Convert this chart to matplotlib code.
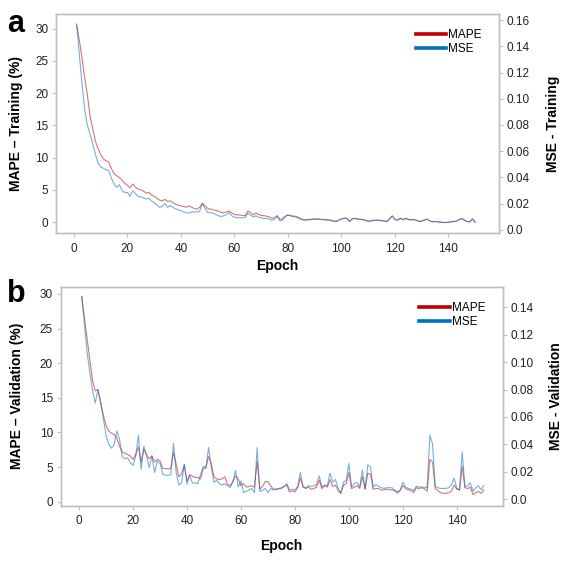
import numpy as np
import matplotlib.pyplot as plt
from matplotlib.lines import Line2D

plt.rcParams['font.family'] = ['Liberation Sans', 'DejaVu Sans']

epochs = np.arange(1, 151)

# panel a - training
mape_train = [30.6, 28.3, 25.5, 22.5, 19.8, 16.5, 14.5, 12.6, 11.4, 10.5,
              9.8, 9.5, 9.3, 8.3, 7.5, 7.2, 6.9, 6.5, 6.0, 5.7,
              5.3, 5.9, 5.4, 5.1, 5.0, 4.8, 4.5, 4.6, 4.2, 4.0,
              3.7, 3.4, 3.3, 3.5, 3.2, 3.3, 3.0, 2.8, 2.6, 2.5,
              2.4, 2.3, 2.5, 2.3, 2.1, 2.0, 2.3, 2.9, 2.5, 2.1,
              2.0, 1.9, 1.8, 1.7, 1.5, 1.4, 1.6, 1.7, 1.4, 1.2,
              1.1, 1.1, 1.0, 1.0, 1.7, 1.5, 1.1, 1.4, 1.2, 1.0,
              1.0, 0.9, 0.8, 0.6, 0.7, 1.0, 0.4, 0.5, 0.9, 1.1,
              1.0, 0.9, 0.9, 0.7, 0.5, 0.36, 0.4, 0.4, 0.5, 0.5,
              0.5, 0.45, 0.4, 0.4, 0.35, 0.3, 0.2, 0.1, 0.3, 0.5,
              0.6, 0.6, 0.1, 0.5, 0.6, 0.5, 0.45, 0.4, 0.3, 0.1,
              0.2, 0.3, 0.3, 0.3, 0.25, 0.2, 0.1, 0.5, 0.97, 0.4,
              0.3, 0.6, 0.4, 0.6, 0.4, 0.4, 0.4, 0.3, 0.1, 0.2,
              0.3, 0.45, 0.2, 0.05, 0.1, 0.05, 0.0, -0.05, -0.06, 0.0,
              0.05, 0.1, 0.15, 0.4, 0.56, 0.3, 0.1, 0.05, 0.5, 0.0]

mse_train = [0.157, 0.134, 0.112, 0.092, 0.080, 0.073, 0.066, 0.058, 0.051, 0.048,
             0.047, 0.046, 0.0453, 0.0394, 0.0350, 0.0325, 0.0345, 0.0300, 0.0286, 0.0286,
             0.0256, 0.0300, 0.0276, 0.0256, 0.0251, 0.0246, 0.0236, 0.0241, 0.0222, 0.0207,
             0.0192, 0.0172, 0.0182, 0.0202, 0.0172, 0.0187, 0.0172, 0.0162, 0.0153, 0.0148,
             0.0138, 0.0133, 0.0128, 0.0138, 0.0138, 0.0138, 0.0143, 0.0202, 0.0167, 0.0133,
             0.0133, 0.0128, 0.0118, 0.0108, 0.0103, 0.0108, 0.0118, 0.0133, 0.0108, 0.0098,
             0.0093, 0.0093, 0.0093, 0.0093, 0.0128, 0.0113, 0.0098, 0.0108, 0.0098, 0.0093,
             0.0088, 0.0088, 0.0083, 0.0074, 0.0083, 0.0103, 0.0069, 0.0074, 0.0103, 0.0113,
             0.0108, 0.0103, 0.0098, 0.0088, 0.0079, 0.0074, 0.0074, 0.0076, 0.0079, 0.0081,
             0.0081, 0.0079, 0.0079, 0.0074, 0.0074, 0.0071, 0.0066, 0.0064, 0.0074, 0.0083,
             0.0088, 0.0088, 0.0064, 0.0083, 0.0088, 0.0081, 0.0079, 0.0079, 0.0074, 0.0064,
             0.0069, 0.0071, 0.0074, 0.0074, 0.0069, 0.0069, 0.0064, 0.0083, 0.0106, 0.0079,
             0.0074, 0.0088, 0.0076, 0.0088, 0.0079, 0.0076, 0.0079, 0.0074, 0.0064, 0.0066,
             0.0074, 0.0081, 0.0069, 0.0061, 0.0064, 0.0061, 0.0059, 0.0056, 0.0056, 0.0059,
             0.0061, 0.0064, 0.0066, 0.0079, 0.0086, 0.0074, 0.0064, 0.0061, 0.0083, 0.0059]

# panel b - validation
mape_val = [29.6, 26.5, 23.5, 20.5, 17.5, 16.0, 16.2, 14.3, 12.5, 11.0,
            10.2, 9.9, 9.7, 9.2, 8.0, 7.2, 7.0, 6.8, 6.6, 6.1,
            6.8, 7.9, 5.7, 7.6, 6.8, 6.2, 6.6, 5.7, 6.1, 5.9,
            4.8, 4.8, 4.7, 4.8, 7.1, 5.4, 3.6, 4.0, 5.3, 3.0,
            3.9, 3.7, 3.5, 3.5, 3.3, 4.7, 5.0, 6.5, 5.5, 3.6,
            3.3, 3.2, 3.3, 3.6, 2.5, 2.3, 2.9, 3.7, 3.3, 2.3,
            2.6, 2.1, 2.2, 2.3, 2.1, 5.8, 1.8, 2.2, 2.9, 2.9,
            2.3, 1.8, 1.8, 1.9, 2.0, 2.2, 2.4, 1.4, 1.6, 1.4,
            2.0, 3.4, 2.1, 1.9, 2.1, 1.8, 1.9, 2.1, 3.1, 1.9,
            2.3, 2.1, 3.2, 2.2, 2.4, 1.6, 1.2, 2.4, 2.6, 4.2,
            1.9, 2.1, 2.3, 1.9, 3.6, 1.8, 4.1, 4.0, 1.8, 1.9,
            1.9, 1.7, 1.7, 1.8, 1.7, 1.7, 1.6, 1.4, 1.7, 2.3,
            1.9, 1.7, 1.6, 1.3, 2.0, 1.9, 2.0, 1.9, 1.5, 6.1,
            5.7, 1.9, 1.6, 1.3, 1.2, 1.2, 1.3, 1.5, 2.4, 1.8,
            1.7, 5.1, 2.0, 1.9, 2.1, 1.0, 1.3, 1.5, 1.2, 1.7]

mse_val = [0.1480, 0.1273, 0.1070, 0.0924, 0.0792, 0.0701, 0.0802, 0.0706, 0.0590, 0.0463,
           0.0403, 0.0372, 0.0397, 0.0499, 0.0438, 0.0311, 0.0296, 0.0301, 0.0266, 0.0246,
           0.0316, 0.0468, 0.0220, 0.0387, 0.0316, 0.0230, 0.0316, 0.0195, 0.0276, 0.0261,
           0.0185, 0.0175, 0.0175, 0.0180, 0.0408, 0.0195, 0.0104, 0.0119, 0.0256, 0.0109,
           0.0175, 0.0119, 0.0119, 0.0114, 0.0175, 0.0241, 0.0225, 0.0377, 0.0236, 0.0124,
           0.0139, 0.0114, 0.0104, 0.0114, 0.0099, 0.0084, 0.0129, 0.0210, 0.0089, 0.0134,
           0.0048, 0.0058, 0.0068, 0.0079, 0.0048, 0.0377, 0.0058, 0.0063, 0.0079, 0.0048,
           0.0079, 0.0068, 0.0074, 0.0074, 0.0079, 0.0094, 0.0114, 0.0068, 0.0074, 0.0068,
           0.0094, 0.0195, 0.0094, 0.0084, 0.0099, 0.0094, 0.0099, 0.0109, 0.0170, 0.0089,
           0.0104, 0.0099, 0.0190, 0.0124, 0.0144, 0.0084, 0.0043, 0.0124, 0.0139, 0.0261,
           0.0089, 0.0114, 0.0124, 0.0089, 0.0215, 0.0074, 0.0251, 0.0236, 0.0089, 0.0109,
           0.0094, 0.0084, 0.0079, 0.0084, 0.0084, 0.0084, 0.0063, 0.0043, 0.0063, 0.0124,
           0.0089, 0.0079, 0.0074, 0.0063, 0.0094, 0.0089, 0.0089, 0.0089, 0.0084, 0.0468,
           0.0403, 0.0094, 0.0084, 0.0079, 0.0079, 0.0079, 0.0084, 0.0104, 0.0155, 0.0079,
           0.0068, 0.0347, 0.0089, 0.0099, 0.0119, 0.0058, 0.0084, 0.0099, 0.0068, 0.0099]

red = '#c00000'
blue = '#0070c0'
grey = '#bfbfbf'

fig = plt.figure(figsize=(5.71, 5.68), dpi=100)


def panel(rect, mape, mse, name, xlim, ylim_l, ylim_r, rticks, xlab_y, lab_x):
    ax = fig.add_axes(rect)
    ax2 = ax.twinx()
    ax.plot(epochs, mape, color=red, alpha=0.55, lw=0.8)
    ax2.plot(epochs, mse, color=blue, alpha=0.55, lw=0.8)

    ax.set_xlim(*xlim)
    ax.set_ylim(*ylim_l)
    ax2.set_ylim(*ylim_r)
    ax.set_xticks(np.arange(0, 141, 20))
    ax.set_yticks(np.arange(0, 31, 5))
    ax2.set_yticks(rticks)
    ax2.set_yticklabels(['0.0'] + ['%.2f' % v for v in rticks[1:]])

    for a in (ax, ax2):
        for s in a.spines.values():
            s.set_color(grey)
            s.set_linewidth(1.0)
        a.tick_params(colors=grey, labelcolor='#222222', labelsize=8.5,
                      length=3, width=0.8, direction='out', pad=2.5)
    ax.tick_params(axis='x', pad=4)

    ax.set_xlabel('Epoch', fontsize=10, fontweight='bold')
    ax.xaxis.set_label_coords(0.5, xlab_y)
    ax.set_ylabel('MAPE \u2013 %s (%%)' % name, fontsize=10, fontweight='bold')
    ax.yaxis.set_label_coords(lab_x[0], 0.5)
    ax2.set_ylabel('MSE - %s' % name, fontsize=10, fontweight='bold')
    ax2.yaxis.set_label_coords(lab_x[1], 0.5)

    handles = [Line2D([], [], color=red, lw=2.6), Line2D([], [], color=blue, lw=2.6)]
    ax2.legend(handles, ['MAPE', 'MSE'], loc='upper right', bbox_to_anchor=(0.985, 0.98),
               frameon=False, fontsize=8.5, handlelength=2.6, handletextpad=0.15,
               labelspacing=0.2)
    return ax


panel([0.0981, 0.5898, 0.7758, 0.3856], mape_train, mse_train, 'Training',
      (-6.7, 158.9), (-1.7, 32.3), (-0.0023, 0.1646),
      [0.0, 0.02, 0.04, 0.06, 0.08, 0.10, 0.12, 0.14, 0.16], -0.118, (-0.074, 1.106))
panel([0.1063, 0.1097, 0.7741, 0.3856], mape_val, mse_val, 'Validation',
      (-6.8, 157.0), (-0.58, 31.05), (-0.0047, 0.155),
      [0.0, 0.02, 0.04, 0.06, 0.08, 0.10, 0.12, 0.14], -0.152, (-0.082, 1.105))

fig.text(0.012, 0.944, 'a', fontsize=22, fontweight='bold', va='baseline')
fig.text(0.012, 0.468, 'b', fontsize=22, fontweight='bold', va='baseline')

fig.savefig('out.png', dpi=100)
